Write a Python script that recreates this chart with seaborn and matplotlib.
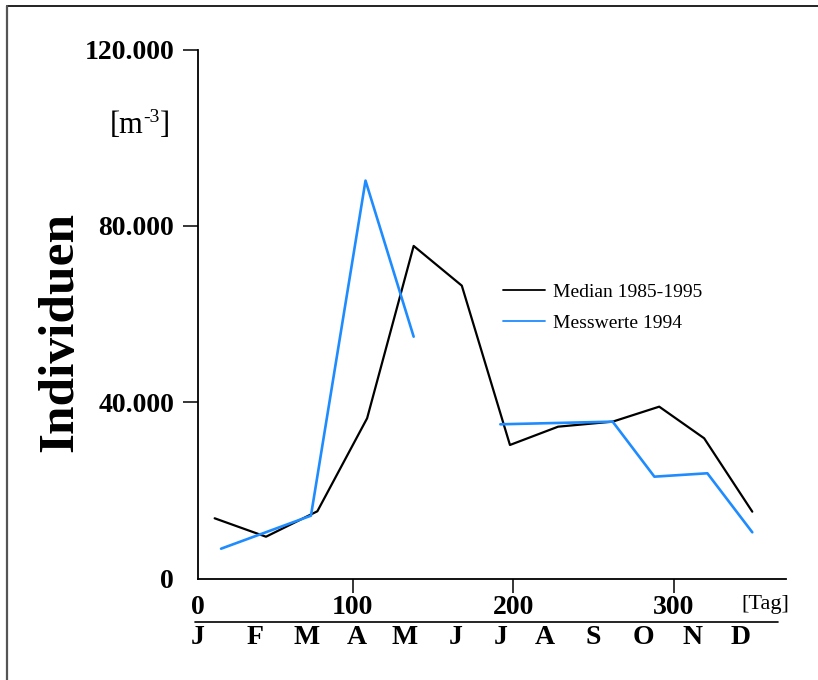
import numpy as np
import pandas as pd
import matplotlib
matplotlib.use("Agg")
import matplotlib.pyplot as plt
import matplotlib.transforms as mtransforms
from matplotlib.lines import Line2D
import seaborn as sns

# ---- data ----
median_day = [14, 46, 78, 109, 138, 168, 198, 228, 262, 291, 319, 349]
median_val = [13660, 9480, 15250, 36350, 75440, 66430, 30290, 34440, 35580, 38980, 31810, 15160]

mess_day = [18, 74, 108, 138, 192, 262, 288, 321, 349]
mess_val = [6760, 14250, 90260, 54860, 34980, 35580, 23100, 23870, 10480]
mess_seg = [1, 1, 1, 1, 2, 2, 2, 2, 2]

x_ticks = [3.5, 100, 200, 300]
x_ticklabels = ["0", "100", "200", "300"]
y_ticks = [0, 40000, 80000, 120000]
y_ticklabels = ["0", "40.000", "80.000", "120.000"]
months = ["J", "F", "M", "A", "M", "J", "J", "A", "S", "O", "N", "D"]
month_pos = [3.2, 39.4, 71.2, 102.4, 132.3, 164, 192, 220, 250, 281, 312, 342]

label_median = "Median 1985-1995"
label_mess = "Messwerte 1994"

BLUE = "#1E8CFF"

sns.set_theme(style="white")
plt.rcParams["font.family"] = ["Liberation Serif", "DejaVu Serif"]
plt.rcParams["text.color"] = "black"
plt.rcParams["axes.labelcolor"] = "black"
plt.rcParams["xtick.color"] = "black"
plt.rcParams["ytick.color"] = "black"
plt.rcParams["legend.labelcolor"] = "black"

W, H = 818, 680
fig = plt.figure(figsize=(W / 100, H / 100), dpi=100)
ax = fig.add_axes([197.8 / W, 1 - 578.5 / H, (786 - 197.8) / W, (578.5 - 49.5) / H])

df_med = pd.DataFrame({"Tag": median_day, "Wert": median_val})
df_mess = pd.DataFrame({"Tag": mess_day, "Wert": mess_val, "seg": mess_seg})

sns.lineplot(data=df_med, x="Tag", y="Wert", color="black", linewidth=1.6, ax=ax)
sns.lineplot(data=df_mess, x="Tag", y="Wert", units="seg", estimator=None,
             color=BLUE, linewidth=1.9, ax=ax)

ax.set_xlim(3.5, 370)
ax.set_ylim(0, 120000)
ax.set_xlabel("")
ax.set_ylabel("")
for s in ["top", "right"]:
    ax.spines[s].set_visible(False)
for s in ["left", "bottom"]:
    ax.spines[s].set_color("black")
    ax.spines[s].set_linewidth(1.3)

ax.set_xticks(x_ticks)
ax.set_xticklabels(x_ticklabels, fontsize=20, fontweight="bold", color="black")
ax.set_yticks(y_ticks)
ax.set_yticklabels(y_ticklabels, fontsize=20, fontweight="bold", color="black")
ax.tick_params(axis="x", direction="out", length=10, width=1.1, pad=2, colors="black",
               bottom=True)
ax.tick_params(axis="y", direction="out", length=11, width=1.1, pad=6, colors="black",
               left=True)
ax.xaxis.get_major_ticks()[0].tick1line.set_visible(False)
ax.yaxis.get_major_ticks()[0].tick1line.set_visible(False)

# legend
handles = [Line2D([], [], color="black", linewidth=1.3),
           Line2D([], [], color=BLUE, linewidth=1.3)]
leg = ax.legend(handles, [label_median, label_mess], frameon=False, fontsize=14,
                handlelength=2.15, handletextpad=0.4, labelspacing=0.72,
                loc="upper left", bbox_to_anchor=(503 / W, 1 - 283 / H),
                bbox_transform=fig.transFigure, borderpad=0, borderaxespad=0,
                labelcolor="black")

# y axis title
fig.text(60 / W, 1 - 332 / H, "Individuen", rotation=90, fontsize=37,
         fontweight="bold", ha="center", va="center", color="black")

# unit [m-3]
t1 = fig.text(110 / W, 1 - 133 / H, "[m", fontsize=22, ha="left", va="baseline",
              color="black")
t2 = ax.annotate("-3", xy=(1, 1), xycoords=t1, fontsize=14, ha="left", va="top",
                 xytext=(0, 1.5), textcoords="offset points", color="black")
t3 = ax.annotate("]", xy=(1, 0), xycoords=(t2, t1), fontsize=22, ha="left",
                 va="bottom", color="black")

# [Tag]
fig.text(765 / W, 1 - 604 / H, "[Tag]", fontsize=16, ha="center", va="center",
         color="black")

# separator line and months
fig.add_artist(Line2D([195 / W, 778 / W], [1 - 622 / H, 1 - 622 / H],
                      color="black", linewidth=1.2, transform=fig.transFigure))
trans = mtransforms.blended_transform_factory(ax.transData, fig.transFigure)
for m, p in zip(months, month_pos):
    ax.text(p, 1 - 637 / H, m, transform=trans, fontsize=20, fontweight="bold",
            ha="center", va="center", clip_on=False, color="black")

# figure frame (top and left visible)
fig.add_artist(Line2D([7 / W, 1.0], [1 - 6 / H, 1 - 6 / H], color="#222222",
                      linewidth=1.4, transform=fig.transFigure))
fig.add_artist(Line2D([7 / W, 7 / W], [0, 1 - 6 / H], color="#555555",
                      linewidth=1.6, transform=fig.transFigure))

fig.savefig("out.png", dpi=100)
